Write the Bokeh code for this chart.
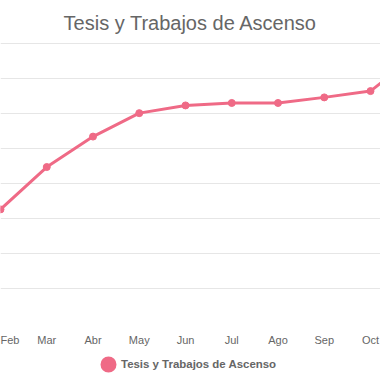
from bokeh.plotting import figure
from bokeh.layouts import column
from bokeh.models import ColumnDataSource, FixedTicker, Range1d, Legend, LegendItem
from bokeh.embed import file_html
from bokeh.resources import INLINE

months = ["Ene", "Feb", "Mar", "Abr", "May", "Jun", "Jul", "Ago", "Sep", "Oct", "Nov"]
values = [20.0, 32.6, 44.7, 53.4, 60.1, 62.3, 63.0, 63.0, 64.6, 66.4, 76.7]
series_name = "Tesis y Trabajos de Ascenso"
title_text = "Tesis y Trabajos de Ascenso"

COLOR = "#ef6a86"
idx = list(range(len(months)))
src = ColumnDataSource(dict(x=idx, y=values))

p = figure(frame_width=380, frame_height=281, output_backend="svg", toolbar_location=None,
           x_range=Range1d(1, 9.216), y_range=Range1d(0, 80.28),
           min_border_left=0, min_border_right=0, min_border_top=42, min_border_bottom=25,
           outline_line_color=None, title=title_text)

p.title.align = "center"
p.title.text_font = "Liberation Sans"
p.title.text_font_size = "20px"
p.title.text_font_style = "normal"
p.title.text_color = "#666666"
p.title.standoff = 18

p.line("x", "y", source=src, line_color=COLOR, line_width=3)
p.scatter("x", "y", source=src, size=7, fill_color=COLOR, line_color=COLOR)

p.yaxis.visible = False
p.xgrid.visible = False
p.ygrid.ticker = FixedTicker(ticks=[0, 10, 20, 30, 40, 50, 60, 70, 80])
p.ygrid.grid_line_color = "#e6e6e6"
p.ygrid.grid_line_width = 1

xa = p.xaxis[0]
xa.ticker = FixedTicker(ticks=idx)
xa.major_label_overrides = {i: m for i, m in enumerate(months)}
xa.axis_line_color = None
xa.major_tick_line_color = None
xa.minor_tick_line_color = None
xa.major_tick_out = 0
xa.major_tick_in = 0
xa.major_label_standoff = 10
xa.major_label_text_font = "Liberation Sans"
xa.major_label_text_font_size = "11px"
xa.major_label_text_color = "#666666"

# legend strip
p2 = figure(width=380, height=32, output_backend="svg", toolbar_location=None,
            x_range=Range1d(0, 1), y_range=Range1d(0, 1),
            min_border=0, outline_line_color=None)
p2.axis.visible = False
p2.grid.visible = False
leg_r = p2.scatter(x=[-10], y=[-10], size=7, fill_color=COLOR, line_color=COLOR,
                   line_width=5.6)

legend = Legend(items=[LegendItem(label=series_name, renderers=[leg_r])],
                orientation="horizontal", location=(95, 3),
                border_line_color=None, background_fill_alpha=0,
                glyph_width=26, glyph_height=26, label_standoff=0,
                padding=0, margin=0, spacing=0)
legend.label_text_font = "Liberation Sans"
legend.label_text_font_size = "11.45px"
legend.label_text_font_style = "bold"
legend.label_text_color = "#666666"
legend.label_text_baseline = "middle"
p2.add_layout(legend)

layout = column(p, p2, spacing=0)
open("out.html", "w").write(file_html(layout, INLINE))
